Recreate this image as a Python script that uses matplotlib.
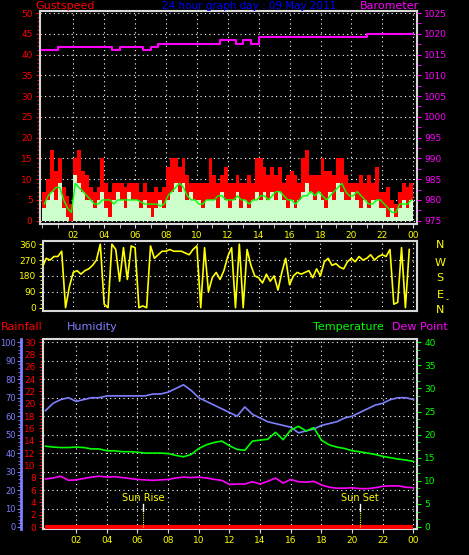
import matplotlib
matplotlib.use("Agg")
import matplotlib.pyplot as plt
import numpy as np
from matplotlib.ticker import MultipleLocator, FixedLocator, NullFormatter

# ---- data (15 min samples for wind, 30 min for the rest) ----
gust = [7, 10, 17, 12, 15, 8, 6, 4, 15, 17, 12, 11, 8, 7, 8, 15,
        9, 7, 9, 9, 9, 8, 9, 9, 9, 7, 9, 7, 7, 8, 7, 8,
        13, 15, 15, 13, 15, 11, 9, 9, 9, 9, 9, 15, 11, 9, 11, 13,
        9, 9, 11, 9, 9, 11, 9, 15, 15, 13, 11, 13, 11, 13, 9, 11,
        12, 11, 9, 15, 17, 11, 11, 11, 15, 12, 12, 11, 15, 15, 11, 9,
        9, 9, 11, 9, 11, 9, 13, 7, 7, 8, 5, 4, 7, 9, 8, 9]
wind = [3, 5, 7, 5, 9, 3, 1, 0, 11, 9, 7, 5, 5, 3, 5, 7,
        3, 1, 5, 7, 5, 3, 7, 5, 5, 3, 5, 3, 1, 3, 5, 3,
        5, 7, 9, 7, 9, 5, 7, 5, 5, 3, 5, 5, 5, 3, 7, 5,
        3, 5, 7, 3, 5, 3, 5, 7, 5, 7, 5, 7, 5, 7, 5, 3,
        5, 3, 5, 7, 9, 7, 5, 7, 5, 3, 7, 5, 9, 7, 5, 5,
        7, 5, 3, 5, 3, 5, 5, 3, 3, 1, 3, 1, 3, 5, 3, 5]
wind_avg = [4, 6, 7, 8, 8, 5, 3, 2, 9, 8, 7, 6, 5, 4, 4, 5,
            5, 5, 4, 5, 5, 5, 5, 5, 5, 4.5, 4, 4, 4, 4, 3.5, 4,
            6, 7, 8, 9, 8, 6, 5, 5, 4, 4, 5, 5, 5, 6, 6, 5,
            5, 5, 6, 5, 5, 4, 5, 5, 6, 6, 5, 6, 7, 7, 6, 5,
            5, 4, 5, 6, 6, 7, 6, 7, 6, 5, 6, 7, 8, 9, 7, 6,
            6, 7, 6, 5, 4, 4, 5, 5, 4, 3, 2, 2, 4, 4, 4, 5]
wind_dir = [230, 280, 270, 290, 290, 320, 0, 120, 200, 210, 190, 210, 220, 240, 270, 360,
            20, 0, 360, 330, 150, 340, 160, 350, 340, 0, 10, 0, 350, 280, 300, 320,
            320, 330, 320, 320, 320, 310, 300, 330, 350, 0, 340, 90, 170, 200, 160, 210,
            290, 340, 0, 360, 0, 330, 240, 180, 170, 140, 190, 150, 180, 100, 200, 280,
            130, 180, 200, 190, 200, 210, 170, 220, 180, 260, 280, 240, 250, 230, 220, 260,
            280, 260, 290, 270, 280, 300, 270, 290, 300, 290, 330, 20, 30, 340, 0, 330]
pressure = [1016.1, 1016.1, 1016.9, 1016.9, 1016.9, 1016.9, 1016.9, 1016.9, 1016.9, 1016.1,
            1016.9, 1016.9, 1016.9, 1016.1, 1016.9, 1017.6, 1017.6, 1017.6, 1017.6, 1017.6,
            1017.6, 1017.6, 1017.6, 1018.4, 1018.4, 1017.6, 1018.4, 1017.6, 1019.2, 1019.2,
            1019.2, 1019.2, 1019.2, 1019.2, 1019.2, 1019.2, 1019.2, 1019.2, 1019.2, 1019.2,
            1019.2, 1019.2, 1020.0, 1020.0, 1020.0, 1020.0, 1020.0, 1020.0, 1020.0]
humidity = [63, 67, 69, 70, 68, 69, 70, 70, 71, 71, 71, 71, 71, 71, 72, 72, 73, 75, 77, 74,
            70, 68, 66, 64, 62, 60, 65, 61, 59, 57, 56, 55, 54, 51, 52, 53, 55, 56, 57, 59,
            60, 62, 64, 66, 67, 69, 70, 70, 69]
temperature = [17.5, 17.3, 17.2, 17.2, 17.3, 17.2, 16.9, 16.9, 16.5, 16.5, 16.3, 16.3, 16.2,
               16.0, 16.0, 16.0, 15.9, 15.5, 15.2, 15.7, 17.0, 17.8, 18.3, 18.6, 17.6, 16.8,
               16.6, 18.6, 18.8, 19.0, 20.5, 18.9, 21.0, 21.8, 20.8, 21.5, 18.8, 17.8, 17.3,
               17.0, 16.5, 16.3, 16.0, 15.7, 15.3, 15.0, 14.7, 14.5, 14.2]
dew_point = [10.4, 10.6, 11.0, 10.1, 10.2, 10.5, 10.8, 11.0, 10.8, 10.9, 10.7, 10.5, 10.3,
             10.2, 10.1, 10.2, 10.3, 10.6, 10.8, 10.7, 10.8, 10.6, 10.3, 10.1, 9.2, 9.3,
             9.3, 9.8, 9.3, 9.9, 10.6, 9.5, 10.3, 9.8, 9.7, 9.9, 9.1, 8.6, 8.4, 8.4, 8.5,
             8.3, 8.3, 8.5, 8.8, 8.9, 8.9, 8.6, 8.5]
rainfall = [0.0] * 49
sun_rise = 6.35
sun_set = 20.5
hour_labels = ['02', '04', '06', '08', '10', '12', '14', '16', '18', '20', '22', '00']

t15 = np.arange(len(gust)) * 0.25
t30 = np.arange(len(humidity)) * 0.5

BG = 'black'
FRAME = '#d8d8d8'
RED = '#ff0000'
MAG = '#ff00ff'
YEL = '#ffff00'
GRN = '#00ff00'
HUM = '#7f7fff'
DOT = (0, (1, 3))
FS = 6.5

fig = plt.figure(figsize=(4.69, 5.55), dpi=100, facecolor=BG)
W, H = 469.0, 555.0


def rect(x0, y0, x1, y1):
    return [x0 / W, 1 - y1 / H, (x1 - x0) / W, (y1 - y0) / H]


def frame(ax):
    ax.set_facecolor(BG)
    for s in ax.spines.values():
        s.set_color(FRAME)
        s.set_linewidth(1.5)


def hide_spines(ax):
    for s in ax.spines.values():
        s.set_visible(False)


def vgrid(ax):
    for h in range(2, 25, 2):
        ax.axvline(h, color='white', lw=0.8, ls=DOT, zorder=0.5)


# ---- panel 1: wind speed / gust / barometer ----
ax1 = fig.add_axes(rect(39.5, 11, 417, 224))
frame(ax1)
ax1.bar(t15, gust, width=0.25, align='edge', color=RED, linewidth=0, zorder=2)
ax1.bar(t15, wind, width=0.25, align='edge', color='#ccffcc', linewidth=0, zorder=3)
ax1.plot(t15 + 0.125, wind_avg, color=GRN, lw=1, zorder=4)
ax1.set_xlim(-0.19, 24.24)
ax1.set_ylim(-0.8, 50.5)
for v in range(0, 51, 5):
    ax1.axhline(v, color='white', lw=0.8, ls=DOT, zorder=0.5)
vgrid(ax1)
ax1.yaxis.set_major_locator(MultipleLocator(5))
ax1.yaxis.set_minor_locator(MultipleLocator(1))
ax1.xaxis.set_major_locator(FixedLocator(range(2, 25, 2)))
ax1.xaxis.set_minor_locator(MultipleLocator(1))
ax1.set_xticklabels(hour_labels)
ax1.tick_params(axis='y', which='both', colors=RED, labelsize=FS, length=3, pad=2)
ax1.tick_params(axis='y', which='minor', length=2)
ax1.tick_params(axis='x', which='both', colors=FRAME, labelcolor=YEL, labelsize=FS, length=3, pad=2)

ax1b = ax1.twinx()
hide_spines(ax1b)
ax1b.plot(t30, pressure, color=MAG, lw=1.5, drawstyle='steps-post', zorder=5)
ax1b.set_ylim(974.2, 1025.5)
ax1b.yaxis.set_major_locator(MultipleLocator(5))
ax1b.yaxis.set_minor_locator(MultipleLocator(2.5))
ax1b.tick_params(axis='y', which='both', colors=MAG, labelsize=FS, length=3, pad=2)

# ---- panel 2: wind direction ----
ax2 = fig.add_axes(rect(43.3, 241, 417.3, 311))
frame(ax2)
ax2.plot(t15, wind_dir, color=YEL, lw=1.2, zorder=3)
ax2.set_xlim(0.06, 24.27)
ax2.set_ylim(-18.7, 378)
for v in (90, 180, 270):
    ax2.axhline(v, color='white', lw=0.8, ls=DOT, zorder=0.5)
vgrid(ax2)
ax2.yaxis.set_major_locator(FixedLocator([0, 90, 180, 270, 360]))
ax2.yaxis.set_minor_locator(MultipleLocator(22.5))
ax2.tick_params(axis='y', which='both', colors=YEL, labelsize=FS, length=3, pad=2)
ax2.tick_params(axis='y', which='minor', length=2)
ax2.tick_params(axis='x', which='both', bottom=False, labelbottom=False)

for lab, y in zip(['N', 'W', 'S', 'E', 'N'], [245, 263, 278, 295, 310]):
    fig.text(440 / W, 1 - y / H, lab, color=YEL, fontsize=8, ha='center', va='center')
fig.text(447 / W, 1 - 300 / H, '-', color=YEL, fontsize=6, ha='center', va='center')

# ---- panel 3: rain / humidity / temperature / dew point ----
ax3 = fig.add_axes(rect(42.7, 339, 417.3, 529.3))
frame(ax3)
ax3.set_xlim(-0.18, 24.25)
ax3.set_ylim(-0.37, 30.5)
ax3.plot(t30, rainfall, color=RED, lw=3, zorder=6, solid_capstyle='butt')
vgrid(ax3)
ax3.yaxis.set_major_locator(MultipleLocator(2))
ax3.yaxis.set_minor_locator(MultipleLocator(0.5))
ax3.xaxis.set_major_locator(FixedLocator(range(2, 25, 2)))
ax3.set_xticklabels(hour_labels)
ax3.tick_params(axis='y', which='both', colors=RED, labelsize=FS, length=3, pad=2)
ax3.tick_params(axis='y', which='minor', length=2)
ax3.tick_params(axis='x', colors=FRAME, labelcolor=YEL, labelsize=FS, length=3, pad=2)

ax3h = ax3.twinx()
hide_spines(ax3h)
ax3h.spines['left'].set_visible(True)
ax3h.spines['left'].set_position(('axes', -0.057))
ax3h.spines['left'].set_color(HUM)
ax3h.spines['left'].set_linewidth(2)
ax3h.yaxis.set_ticks_position('left')
ax3h.set_ylim(-1.25, 101.8)
ax3h.yaxis.set_major_locator(MultipleLocator(10))
ax3h.yaxis.set_minor_locator(MultipleLocator(2))
ax3h.tick_params(axis='y', which='both', colors=HUM, labelsize=6, length=3, pad=1)
ax3h.tick_params(axis='y', which='minor', length=2)
for v in range(10, 101, 10):
    ax3h.axhline(v, color='white', lw=0.8, ls=DOT, zorder=0.5)
ax3h.plot(t30, humidity, color=HUM, lw=1.2, zorder=3)

ax3t = ax3.twinx()
hide_spines(ax3t)
ax3t.set_ylim(-0.5, 40.7)
ax3t.yaxis.set_major_locator(MultipleLocator(5))
ax3t.yaxis.set_minor_locator(MultipleLocator(5 / 3))
ax3t.yaxis.set_minor_formatter(NullFormatter())
ax3t.tick_params(axis='y', which='both', colors=GRN, labelsize=FS, length=3, pad=2)
ax3t.tick_params(axis='y', which='minor', length=2)
ax3t.plot(t30, temperature, color=GRN, lw=1.2, zorder=3)
ax3t.plot(t30, dew_point, color=MAG, lw=1.2, zorder=3)

for hx, lab in ((sun_rise, 'Sun Rise'), (sun_set, 'Sun Set')):
    ax3t.text(hx, 6.3, lab, color=YEL, fontsize=7, ha='center', va='center')
    ax3t.plot([hx, hx], [3.5, 5.0], color='white', lw=1)
    ax3t.plot([hx, hx], [0, 3.5], color=YEL, lw=0.8, ls=(0, (1, 1)))

# ---- header texts ----
fig.text(35 / W, 1 - 6 / H, 'Gustspeed', color=RED, fontsize=8, ha='left', va='center')
fig.text(249 / W, 1 - 6 / H, '24 hour graph day : 09 May 2011', color='#0000ff',
         fontsize=7.5, ha='center', va='center')
fig.text(419 / W, 1 - 6 / H, 'Barometer', color=MAG, fontsize=8, ha='right', va='center')
fig.text(1 / W, 1 - 327 / H, 'Rainfall', color=RED, fontsize=8, ha='left', va='center')
fig.text(67 / W, 1 - 327 / H, 'Humidity', color=HUM, fontsize=8, ha='left', va='center')
fig.text(313 / W, 1 - 327 / H, 'Temperature', color=GRN, fontsize=8, ha='left', va='center')
fig.text(392 / W, 1 - 327 / H, 'Dew Point', color=MAG, fontsize=8, ha='left', va='center')

fig.savefig('out.png', dpi=100, facecolor=BG)
